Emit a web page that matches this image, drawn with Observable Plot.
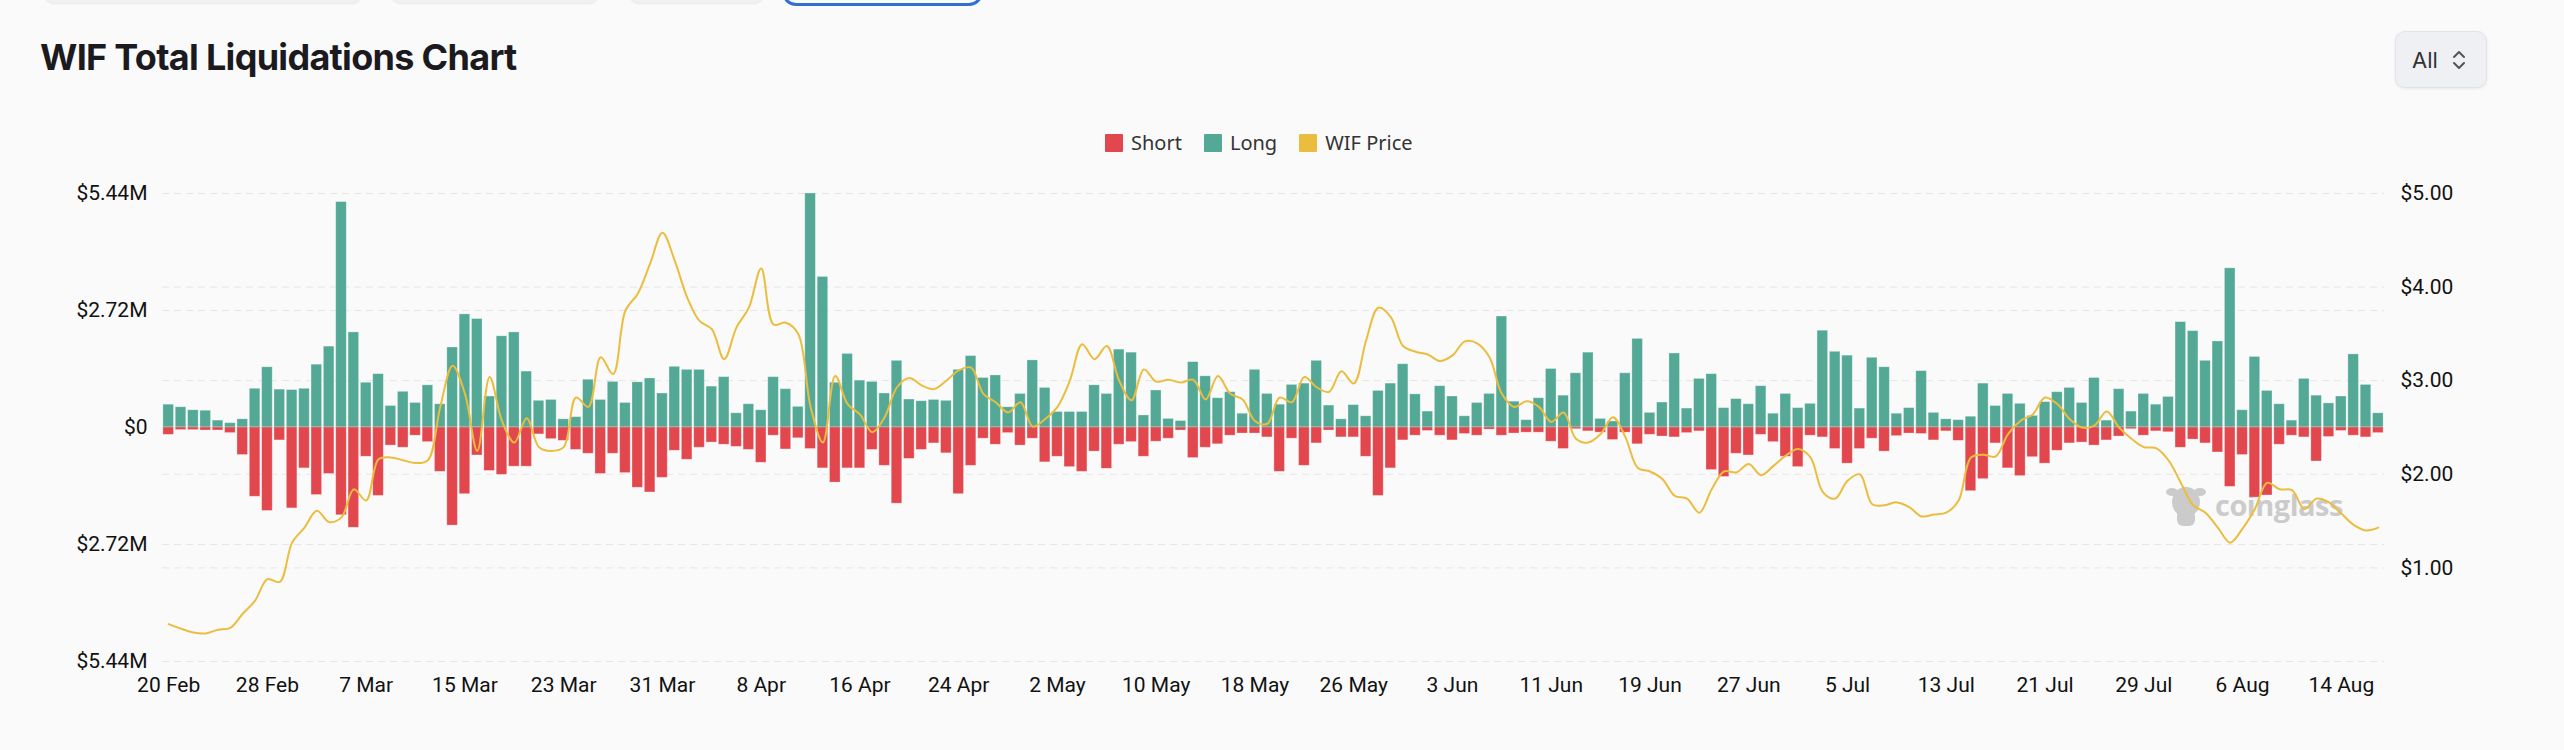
<!DOCTYPE html>
<html>
<head>
<meta charset="utf-8">
<script src="https://cdn.jsdelivr.net/npm/d3@7"></script>
<script src="https://cdn.jsdelivr.net/npm/@observablehq/plot@0.6"></script>
<style>
  html, body { margin: 0; padding: 0; background: #fafafa; width: 2564px; height: 750px; overflow: hidden; font-family: Inter, "Noto Sans", sans-serif; }
  #page { position: relative; width: 2564px; height: 750px; }
  .tab { position: absolute; top: -40px; height: 43px; background: #f1f1f1; border-radius: 12px; box-shadow: 0 1px 2px rgba(0,0,0,0.08); }
  .tab.active { top: -42px; height: 42px; background: #fafafa; border: 3px solid #2f6fd6; border-radius: 14px; box-shadow: none; }
  #title { position: absolute; left: 40px; top: 36px; font-size: 36px; font-weight: 700; color: #1b1b1f; letter-spacing: -0.7px; line-height: 1.2; }
  #legend { position: absolute; left: 1105px; top: 129px; display: flex; align-items: center; font-size: 20px; color: #333; font-family: "Noto Sans", Inter, sans-serif; }
  .item { display: flex; align-items: center; margin-right: 22px; }
  .sw { width: 18px; height: 18px; margin-right: 8px; border-radius: 1px; }
  #dropdown { position: absolute; left: 2395px; top: 31px; width: 90px; height: 55px; background: #eff0f3; border: 1px solid #e1e3e8; border-radius: 10px; box-shadow: 0 1px 3px rgba(0,0,0,0.08); display: flex; align-items: center; font-size: 22px; color: #333; }
  #dropdown span { margin-left: 16px; margin-right: 14px; }
  #chart { position: absolute; left: 0; top: 150px; }
  #wm { position: absolute; left: 2165px; top: 480px; display: flex; align-items: center; pointer-events: none; }
  #wm span { font-size: 29px; font-weight: 700; color: #cbcbcb; letter-spacing: -0.5px; margin-left: 8px; font-family: "Open Sans", Inter, sans-serif; }
</style>
</head>
<body>
<div id="page">
  <div class="tab" style="left:43px;width:320px"></div>
  <div class="tab" style="left:390px;width:210px"></div>
  <div class="tab" style="left:628px;width:137px"></div>
  <div class="tab active" style="left:782px;width:195px"></div>
  <div id="title">WIF Total Liquidations Chart</div>
  <div id="legend"></div>
  <div id="dropdown"><span>All</span>
    <svg width="14" height="22" viewBox="0 0 14 22"><path d="M2 8 L7 3 L12 8" fill="none" stroke="#555" stroke-width="2" stroke-linecap="round" stroke-linejoin="round"/><path d="M2 14 L7 19 L12 14" fill="none" stroke="#555" stroke-width="2" stroke-linecap="round" stroke-linejoin="round"/></svg>
  </div>
  <div id="wm">
    <svg width="42" height="48" viewBox="0 0 42 48"><g fill="#cbcbcb"><ellipse cx="21" cy="22" rx="14" ry="15"/><ellipse cx="7" cy="12" rx="6" ry="4"/><ellipse cx="35" cy="12" rx="6" ry="4"/><rect x="12" y="30" width="18" height="16" rx="6"/></g></svg>
    <span>coinglass</span>
  </div>
  <div id="chart"></div>
</div>
<script>
// ---- data (millions USD for liquidations, USD for price) ----
const firstDay = "2024-02-20";
const lastDay = "2024-08-17";
const seriesNames = ["Short", "Long", "WIF Price"];
const seriesColors = ["#e2474e", "#53a996", "#ebbd3f"];

const longLiq = [
  0.53,0.47,0.40,0.39,0.16,0.10,0.19,0.90,1.40,0.88,0.87,0.90,1.46,1.88,5.24,2.21,1.04,1.24,0.50,0.83,0.57,0.98,0.54,1.86,2.63,2.52,0.72,2.12,2.21,1.30,
  0.62,0.64,0.19,0.24,1.11,0.64,1.06,0.57,1.05,1.14,0.79,1.41,1.34,1.34,0.95,1.17,0.33,0.54,0.40,1.17,0.89,0.48,5.44,3.50,1.04,1.71,1.09,1.06,0.79,1.55,
  0.65,0.61,0.64,0.62,1.34,1.66,1.15,1.21,0.47,0.78,1.56,0.92,0.36,0.36,0.36,0.98,0.78,1.81,1.74,0.28,0.86,0.20,0.15,1.52,1.19,0.68,0.82,0.32,1.34,0.78,
  0.53,0.99,1.02,1.55,0.51,0.19,0.52,0.26,0.85,1.02,1.47,0.77,0.37,0.96,0.72,0.26,0.57,0.78,2.58,0.60,0.17,0.68,1.36,0.74,1.26,1.74,0.20,0.14,1.26,2.06,
  0.34,0.58,1.72,0.44,1.13,1.24,0.45,0.66,0.54,0.96,0.32,0.78,0.45,0.55,2.25,1.76,1.67,0.44,1.62,1.40,0.32,0.45,1.31,0.34,0.19,0.17,0.25,1.02,0.50,0.78,
  0.55,0.27,0.59,0.82,0.92,0.57,1.15,0.16,0.89,0.37,0.78,0.53,0.71,2.45,2.24,1.55,2.00,3.70,0.40,1.64,0.85,0.54,0.16,1.13,0.74,0.56,0.72,1.70,0.99,0.33
];
const shortLiq = [
  0.17,0.06,0.06,0.07,0.07,0.13,0.64,1.61,1.94,0.30,1.88,0.95,1.57,1.08,2.04,2.33,0.68,1.59,0.42,0.47,0.19,0.34,1.03,2.28,1.55,0.65,1.01,1.10,0.91,0.91,
  0.16,0.27,0.31,0.52,0.61,1.08,0.61,1.06,1.40,1.51,1.17,0.54,0.75,0.47,0.35,0.40,0.45,0.52,0.82,0.19,0.51,0.25,0.50,0.95,1.28,0.95,0.95,0.52,0.89,1.77,
  0.73,0.52,0.37,0.60,1.55,0.89,0.26,0.40,0.13,0.42,0.26,0.81,0.68,0.92,1.03,0.56,0.96,0.40,0.34,0.68,0.33,0.26,0.07,0.71,0.47,0.39,0.19,0.14,0.14,0.23,
  1.03,0.26,0.89,0.37,0.07,0.23,0.23,0.68,1.59,0.95,0.30,0.19,0.08,0.19,0.30,0.15,0.19,0.05,0.19,0.14,0.12,0.12,0.33,0.50,0.04,0.09,0.12,0.29,0.12,0.39,
  0.17,0.21,0.23,0.13,0.09,0.99,1.15,0.61,0.65,0.17,0.34,0.68,0.92,0.19,0.23,0.50,0.84,0.50,0.26,0.56,0.20,0.14,0.15,0.30,0.09,0.31,1.48,1.20,0.37,0.95,
  1.13,0.69,0.84,0.54,0.37,0.35,0.42,0.30,0.21,0.04,0.19,0.09,0.11,0.47,0.28,0.37,0.58,1.38,0.64,1.63,1.58,0.40,0.19,0.23,0.79,0.22,0.08,0.19,0.23,0.13
];
const wifPrice = [
  0.40,0.35,0.31,0.30,0.34,0.36,0.51,0.65,0.88,0.85,1.27,1.43,1.61,1.49,1.54,1.84,1.72,2.16,2.18,2.15,2.12,2.15,2.72,3.16,2.86,2.25,3.04,2.57,2.34,2.60,
  2.29,2.25,2.29,2.82,2.72,3.25,3.07,3.75,3.93,4.25,4.58,4.28,3.89,3.64,3.55,3.23,3.57,3.78,4.20,3.60,3.62,3.50,2.72,2.34,3.05,2.75,2.64,2.45,2.61,2.93,
  3.03,2.95,2.91,3.00,3.11,3.14,2.86,2.77,2.66,2.77,2.51,2.59,2.72,3.00,3.39,3.23,3.37,3.00,2.79,3.12,2.99,3.01,2.98,3.01,2.80,3.05,2.86,2.80,2.57,2.54,
  2.82,2.77,3.04,2.93,2.88,3.10,2.97,3.43,3.78,3.68,3.37,3.31,3.28,3.21,3.27,3.42,3.40,3.25,2.86,2.72,2.78,2.72,2.56,2.66,2.38,2.34,2.43,2.61,2.40,2.07,
  2.03,1.95,1.77,1.74,1.59,1.84,2.03,2.02,2.11,1.99,2.09,2.20,2.27,2.18,1.81,1.74,1.93,2.00,1.68,1.67,1.70,1.65,1.55,1.57,1.59,1.72,2.18,2.21,2.19,2.43,
  2.57,2.64,2.82,2.75,2.59,2.50,2.52,2.67,2.50,2.38,2.29,2.28,2.15,1.91,1.67,1.59,1.43,1.27,1.42,1.63,1.91,1.84,1.83,1.63,1.74,1.70,1.58,1.46,1.40,1.43
];
const leftTicks = [-5.44, -2.72, 0, 2.72, 5.44];
const priceTicks = [1, 2, 3, 4, 5];
const xTickLabels = ["20 Feb","28 Feb","7 Mar","15 Mar","23 Mar","31 Mar","8 Apr","16 Apr","24 Apr","2 May","10 May","18 May","26 May","3 Jun","11 Jun","19 Jun","27 Jun","5 Jul","13 Jul","21 Jul","29 Jul","6 Aug","14 Aug"];

// ---- build ----
const yMax = 5.44, priceMax = 5;
const toY = p => p / priceMax * 2 * yMax - yMax;
const fromY = y => (y + yMax) / (2 * yMax) * priceMax;
const parseDay = d3.utcParse("%Y-%m-%d");
const days = d3.utcDay.range(parseDay(firstDay), d3.utcDay.offset(parseDay(lastDay), 1));
const rows = days.map((date, i) => ({date, long: longLiq[i], short: shortLiq[i], price: wifPrice[i]}));
const parseTick = d3.utcParse("%d %b %Y");
const tickDates = xTickLabels.map(s => parseTick(s + " 2024"));
const lo = d => d3.utcHour.offset(d.date, -12);
const hi = d => d3.utcHour.offset(d.date, 12);

// legend
const legend = document.getElementById("legend");
seriesNames.forEach((n, i) => {
  const it = document.createElement("div"); it.className = "item";
  const sw = document.createElement("div"); sw.className = "sw"; sw.style.background = seriesColors[i];
  const tx = document.createElement("span"); tx.textContent = n;
  it.appendChild(sw); it.appendChild(tx); legend.appendChild(it);
});

const grid = {stroke: "#e6e6e6", strokeDasharray: "7,5", strokeWidth: 1};
const chart = Plot.plot({
  width: 2564, height: 600,
  marginLeft: 162, marginRight: 180, marginTop: 43, marginBottom: 89,
  style: {background: "transparent", fontFamily: "Roboto, Inter, sans-serif", fontSize: "21px", color: "#111", overflow: "visible"},
  x: {type: "utc", domain: [d3.utcHour.offset(days[0], -12), d3.utcHour.offset(days[days.length - 1], 12)]},
  y: {domain: [-yMax, yMax]},
  marks: [
    Plot.ruleY(leftTicks, grid),
    Plot.ruleY(priceTicks.map(toY), grid),
    Plot.rect(rows, {x1: lo, x2: hi, y1: 0, y2: "long", fill: seriesColors[1], insetLeft: 0.9, insetRight: 0.9, stroke: "#ffffff", strokeOpacity: 0.35, strokeWidth: 0.8}),
    Plot.rect(rows, {x1: lo, x2: hi, y1: 0, y2: d => -d.short, fill: seriesColors[0], insetLeft: 0.9, insetRight: 0.9, stroke: "#ffffff", strokeOpacity: 0.35, strokeWidth: 0.8}),
    Plot.line(rows, {x: "date", y: d => toY(d.price), stroke: seriesColors[2], strokeWidth: 2, curve: "catmull-rom"}),
    Plot.axisY(leftTicks, {anchor: "left", tickSize: 0, tickPadding: 15, fontSize: 21, label: null,
      tickFormat: v => v === 0 ? "$0" : "$" + Math.abs(v).toFixed(2) + "M"}),
    Plot.axisY(priceTicks.map(toY), {anchor: "right", tickSize: 0, tickPadding: 16, fontSize: 21, label: null,
      tickFormat: v => "$" + fromY(v).toFixed(2)}),
    Plot.axisX(tickDates, {anchor: "bottom", tickSize: 0, tickPadding: 16, fontSize: 21, label: null,
      tickFormat: d3.utcFormat("%-d %b")})
  ]
});
document.getElementById("chart").appendChild(chart);
</script>
</body>
</html>
